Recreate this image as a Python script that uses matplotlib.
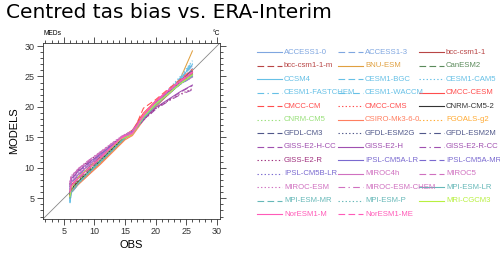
#!/usr/bin/env python3
"""Centred tas bias quantile plot: CMIP5 models vs ERA-Interim (MEDs)."""

import matplotlib

matplotlib.use("Agg")
import matplotlib.pyplot as plt
from matplotlib.lines import Line2D
from matplotlib.ticker import MultipleLocator

plt.rcParams["font.family"] = ["Liberation Sans", "DejaVu Sans"]

# observed quantiles (degC) at which model quantiles were read
obs = [6.0, 6.2, 7.5, 9.0, 11.0, 13.0, 14.3, 15.0, 16.2, 18.0, 20.0, 22.0, 24.0, 26.0]

models = [
    "ACCESS1-0", "ACCESS1-3", "bcc-csm1-1", "bcc-csm1-1-m", "BNU-ESM", "CanESM2",
    "CCSM4", "CESM1-BGC", "CESM1-CAM5", "CESM1-FASTCHEM", "CESM1-WACCM", "CMCC-CESM",
    "CMCC-CM", "CMCC-CMS", "CNRM-CM5-2", "CNRM-CM5", "CSIRO-Mk3-6-0", "FGOALS-g2",
    "GFDL-CM3", "GFDL-ESM2G", "GFDL-ESM2M", "GISS-E2-H-CC", "GISS-E2-H", "GISS-E2-R-CC",
    "GISS-E2-R", "IPSL-CM5A-LR", "IPSL-CM5A-MR", "IPSL-CM5B-LR", "MIROC4h", "MIROC5",
    "MIROC-ESM", "MIROC-ESM-CHEM", "MPI-ESM-LR", "MPI-ESM-MR", "MPI-ESM-P", "MRI-CGCM3",
    "NorESM1-M", "NorESM1-ME",
]

values = [
    [5.0, 6.0, 7.6, 9.0, 11.0, 13.0, 14.2, 15.0, 15.6, 18.0, 20.4, 22.3, 24.2, 26.3],
    [4.6, 5.8, 7.5, 9.1, 11.1, 13.1, 14.3, 15.1, 15.7, 18.2, 20.6, 22.5, 24.5, 26.8],
    [5.5, 6.4, 7.9, 9.4, 11.3, 13.3, 14.5, 15.2, 15.8, 18.6, 20.8, 22.4, 24.1, 25.6],
    [5.7, 6.6, 8.1, 9.6, 11.5, 13.5, 14.7, 15.3, 15.9, 18.4, 20.5, 22.2, 23.9, 25.3],
    [5.2, 6.2, 7.4, 8.8, 10.7, 12.8, 14.0, 14.8, 15.5, 18.1, 20.5, 22.6, 24.6, 29.2],
    [5.9, 6.9, 8.4, 9.8, 11.6, 13.4, 14.6, 15.2, 15.7, 18.3, 20.6, 22.3, 24.0, 25.6],
    [4.4, 5.9, 7.6, 9.2, 11.2, 13.1, 14.4, 15.0, 15.6, 18.1, 20.4, 22.4, 24.6, 27.0],
    [4.3, 5.9, 7.6, 9.2, 11.1, 13.0, 14.3, 15.0, 15.5, 18.0, 20.3, 22.3, 24.5, 26.9],
    [4.8, 6.1, 7.8, 9.4, 11.4, 13.3, 14.5, 15.1, 15.7, 18.3, 20.7, 22.8, 25.0, 27.6],
    [4.2, 5.8, 7.5, 9.1, 11.0, 13.0, 14.3, 14.9, 15.5, 18.0, 20.3, 22.4, 24.6, 27.2],
    [4.5, 6.0, 7.7, 9.3, 11.2, 13.1, 14.4, 15.0, 15.6, 18.2, 20.5, 22.6, 24.8, 27.4],
    [6.2, 7.2, 8.6, 10.0, 11.8, 13.7, 14.9, 15.4, 16.2, 19.0, 21.0, 22.6, 24.2, 25.8],
    [5.3, 6.2, 7.6, 9.0, 10.9, 12.9, 14.2, 14.9, 15.6, 19.8, 21.2, 22.9, 24.5, 26.2],
    [5.4, 6.3, 7.7, 9.1, 11.0, 13.0, 14.3, 15.0, 15.7, 18.5, 20.8, 22.6, 24.3, 26.0],
    [5.6, 6.5, 7.9, 9.3, 11.2, 13.2, 14.5, 15.1, 15.8, 18.2, 20.3, 22.0, 23.8, 25.4],
    [5.7, 6.6, 8.0, 9.4, 11.3, 13.3, 14.6, 15.2, 15.9, 18.3, 20.4, 22.1, 23.9, 25.5],
    [5.1, 6.0, 7.4, 8.8, 10.6, 12.6, 13.9, 14.6, 15.3, 17.8, 20.1, 22.0, 23.9, 25.6],
    [5.4, 6.3, 7.7, 9.0, 10.8, 12.7, 14.0, 14.7, 15.4, 18.0, 20.2, 22.2, 24.3, 26.1],
    [5.8, 6.9, 8.4, 9.8, 11.6, 13.5, 14.7, 15.3, 15.9, 18.4, 20.6, 22.4, 24.3, 26.0],
    [5.9, 7.0, 8.6, 10.0, 11.8, 13.6, 14.8, 15.3, 15.9, 18.3, 20.5, 22.3, 24.1, 25.8],
    [5.8, 6.9, 8.5, 9.9, 11.7, 13.6, 14.8, 15.3, 15.9, 18.4, 20.6, 22.4, 24.2, 25.9],
    [6.9, 8.1, 9.5, 10.7, 12.2, 13.8, 14.8, 15.2, 15.8, 17.9, 19.8, 21.1, 22.4, 23.5],
    [7.0, 8.2, 9.6, 10.8, 12.3, 13.9, 14.9, 15.3, 15.9, 18.0, 19.9, 21.2, 22.5, 23.6],
    [7.2, 8.4, 9.8, 11.0, 12.5, 14.0, 14.9, 15.3, 15.8, 17.8, 19.6, 20.9, 22.0, 22.8],
    [7.3, 8.5, 9.9, 11.1, 12.6, 14.1, 15.0, 15.4, 15.9, 17.9, 19.7, 21.0, 22.1, 23.0],
    [6.5, 7.6, 9.0, 10.4, 12.1, 13.8, 14.9, 15.4, 16.0, 18.5, 20.6, 22.2, 23.8, 25.0],
    [6.4, 7.5, 8.9, 10.3, 12.0, 13.7, 14.8, 15.3, 16.0, 18.4, 20.5, 22.1, 23.7, 24.9],
    [6.8, 7.9, 9.3, 10.6, 12.2, 13.8, 14.9, 15.4, 16.1, 18.5, 20.7, 22.5, 24.2, 25.4],
    [6.6, 7.7, 9.1, 10.4, 12.0, 13.6, 14.7, 15.2, 15.8, 18.3, 20.5, 22.2, 23.8, 24.9],
    [7.5, 8.6, 9.9, 11.1, 12.5, 14.0, 15.0, 15.4, 16.0, 18.4, 20.6, 22.3, 23.9, 25.1],
    [7.7, 8.7, 10.0, 11.2, 12.7, 14.2, 15.1, 15.5, 16.1, 18.6, 20.9, 22.5, 24.1, 25.4],
    [7.6, 8.6, 10.0, 11.2, 12.6, 14.1, 15.1, 15.5, 16.1, 18.5, 20.8, 22.5, 24.2, 25.5],
    [5.0, 6.0, 7.6, 9.1, 11.0, 12.9, 14.2, 14.9, 15.6, 18.1, 20.3, 22.1, 23.8, 25.1],
    [5.1, 6.1, 7.7, 9.2, 11.1, 13.0, 14.3, 15.0, 15.7, 18.2, 20.4, 22.2, 23.9, 25.2],
    [5.0, 6.0, 7.5, 9.0, 10.9, 12.9, 14.2, 14.9, 15.6, 18.1, 20.3, 22.0, 23.7, 25.0],
    [5.3, 6.8, 8.6, 9.9, 11.6, 13.5, 14.7, 15.0, 15.5, 18.4, 20.5, 22.1, 23.8, 25.3],
    [6.0, 7.0, 8.4, 9.8, 11.6, 13.6, 14.8, 15.2, 15.6, 18.6, 20.9, 22.6, 24.2, 25.7],
    [6.1, 7.1, 8.5, 9.9, 11.7, 13.7, 14.9, 15.3, 15.7, 18.7, 21.0, 22.7, 24.3, 25.8],
]

colors = [
    "#7fa6e0", "#7fa6e0", "#b84545", "#b84545", "#e0a040", "#5a8a5a",
    "#66c0e6", "#66c0e6", "#66c0e6", "#66c0e6", "#66c0e6", "#ff4d4d",
    "#ff4d4d", "#ff4d4d", "#333333", "#99e07a", "#ff7f60", "#ffaa33",
    "#50588a", "#50588a", "#50588a", "#a050b0", "#a050b0", "#a050b0",
    "#a0307e", "#7a6ad0", "#7a6ad0", "#7a6ad0", "#d070c0", "#d070c0",
    "#d070c0", "#d070c0", "#66b8b8", "#66b8b8", "#66b8b8", "#b8f040",
    "#ff5ab8", "#ff5ab8",
]

solid = "-"
dash = (0, (6, 3))
dot = (0, (1.2, 2))
dashdot = (0, (6, 3, 1.2, 3))
styles = [
    solid, dash, solid, dash, solid, dash,
    solid, dash, dot, dashdot, dashdot, solid,
    dash, dot, solid, dot, solid, dot,
    dash, dot, dashdot, dash, solid, dashdot,
    dot, solid, dash, dot, solid, dash,
    dot, dashdot, solid, dash, dot, solid,
    solid, dash,
]

W, H = 500, 256
fig = plt.figure(figsize=(W / 100, H / 100), dpi=100)
ax = fig.add_axes([43 / W, 1 - 219 / H, 177 / W, 176 / H])

lim = (1.6, 30.5)
ax.plot(lim, lim, color="#888888", lw=0.6, zorder=1)
for name, vals, col, ls in zip(models, values, colors, styles):
    ax.plot(obs, vals, color=col, ls=ls, lw=0.75, zorder=2)

ax.set_xlim(lim)
ax.set_ylim(lim)
ax.xaxis.set_major_locator(MultipleLocator(5))
ax.yaxis.set_major_locator(MultipleLocator(5))
ax.xaxis.set_minor_locator(MultipleLocator(1))
ax.yaxis.set_minor_locator(MultipleLocator(1))
ax.tick_params(which="both", direction="out", top=True, right=True,
               colors="#333333", width=0.6, labelsize=6.5, pad=2)
ax.tick_params(which="major", length=4)
ax.tick_params(which="minor", length=2)
for sp in ax.spines.values():
    sp.set_linewidth(0.6)
    sp.set_color("#333333")
ax.set_xlabel("OBS", fontsize=8, labelpad=3)
ax.set_ylabel("MODELS", fontsize=8, labelpad=4)
ax.text(0.0, 1.035, "MEDs", transform=ax.transAxes, fontsize=4.8, ha="left", va="bottom")
ax.text(1.0, 1.035, "°C", transform=ax.transAxes, fontsize=4.8, ha="right", va="bottom")

fig.text(6 / W, 1 - 13 / H, "Centred tas bias vs. ERA-Interim", fontsize=14.5,
         family="DejaVu Sans", ha="left", va="center")

# legend: fixed 3-column grid like NCL
for i, (name, col, ls) in enumerate(zip(models, colors, styles)):
    r, c = divmod(i, 3)
    x0 = 256.5 + c * 81
    y0 = 52 + r * 13.52
    fig.add_artist(Line2D([x0 / W, (x0 + 25) / W], [1 - y0 / H, 1 - y0 / H],
                          color=col, ls=ls, lw=0.8, transform=fig.transFigure))
    fig.text((x0 + 27.5) / W, 1 - y0 / H, name, color=col, fontsize=5.6,
             ha="left", va="center")

fig.savefig("out.png", dpi=100)
